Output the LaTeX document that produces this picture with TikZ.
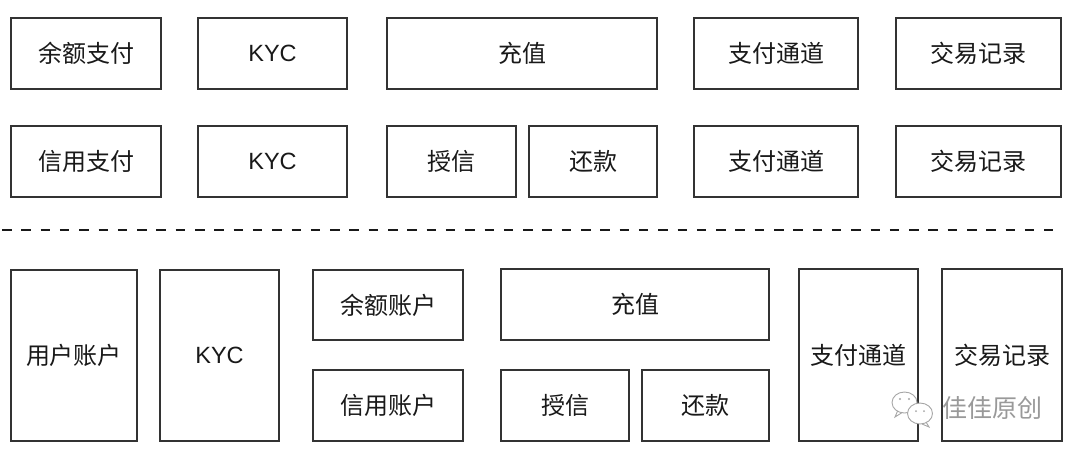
\documentclass[tikz,border=0pt]{standalone}
\usepackage{fontspec}
\setmainfont{Liberation Sans}
\newfontfamily\cjk{Noto Sans CJK SC}
\begin{document}
\begin{tikzpicture}[x=1pt,y=-1pt,
  bx/.style={draw=black!80, line width=1.3pt, fill=white, inner sep=0pt, outer sep=0pt,
    font=\cjk\fontsize{24}{28}\selectfont, text=black!90},
  lat/.style={font=\fontsize{23.5}{27}\selectfont},
  sepline/.style={line width=2.7pt, dash pattern=on 9.5pt off 9.8pt, draw=black!90},
  wm/.style={text=black!40, font=\cjk\fontsize{25}{28}\selectfont, inner sep=0pt},
  bubble/.style={draw=black!35, fill=white, line width=0.9pt}]
\useasboundingbox (0,0) rectangle (1080,459);
% row 1
\node[bx, minimum width=150, minimum height=71] (a1) at (86,53.5) {余额支付};
\node[bx, lat, minimum width=149, minimum height=71] (a2) at (272.5,53.5) {KYC};
\node[bx, minimum width=270, minimum height=71] (a3) at (522,53.5) {充值};
\node[bx, minimum width=164, minimum height=71] (a4) at (776,53.5) {支付通道};
\node[bx, minimum width=165, minimum height=71] (a5) at (978.5,53.5) {交易记录};
% row 2
\node[bx, minimum width=150, minimum height=71] (b1) at (86,161.5) {信用支付};
\node[bx, lat, minimum width=149, minimum height=71] (b2) at (272.5,161.5) {KYC};
\node[bx, minimum width=129, minimum height=71] (b3) at (451.5,161.5) {授信};
\node[bx, minimum width=128, minimum height=71] (b4) at (593,161.5) {还款};
\node[bx, minimum width=164, minimum height=71] (b5) at (776,161.5) {支付通道};
\node[bx, minimum width=165, minimum height=71] (b6) at (978.5,161.5) {交易记录};
% separator
\coordinate (s1) at (2,230);
\coordinate (s2) at (1053,230);
\draw[sepline] (s1) -- (s2);
% row 3
\node[bx, minimum width=126, minimum height=171] (c1) at (74,355.5) {用户账户};
\node[bx, lat, minimum width=119, minimum height=171] (c2) at (219.5,355.5) {KYC};
\node[bx, minimum width=150, minimum height=70] (c3) at (388,305) {余额账户};
\node[bx, minimum width=150, minimum height=71] (c4) at (388,405.5) {信用账户};
\node[bx, minimum width=268, minimum height=71] (c5) at (635,304.5) {充值};
\node[bx, minimum width=128, minimum height=71] (c6) at (565,405.5) {授信};
\node[bx, minimum width=127, minimum height=71] (c7) at (705.5,405.5) {还款};
\node[bx, minimum width=119, minimum height=172] (c8) at (858.5,355) {支付通道};
\node[bx, minimum width=120, minimum height=172] (c9) at (1002,355) {交易记录};
% watermark
\draw[bubble] (898,410) -- (895,417) -- (903,412);
\draw[bubble] (904.5,402.5) ellipse [x radius=12.5, y radius=10.5];
\fill[black!35] (900,399) circle (1.1) (909,399) circle (1.1);
\draw[bubble] (926,422) -- (929,427) -- (922,424);
\draw[bubble] (920,413.5) ellipse [x radius=12.5, y radius=10.5];
\fill[black!35] (916,411) circle (1) (924,411) circle (1);
\node[wm] (w) at (992,408) {佳佳原创};
\end{tikzpicture}
\end{document}
